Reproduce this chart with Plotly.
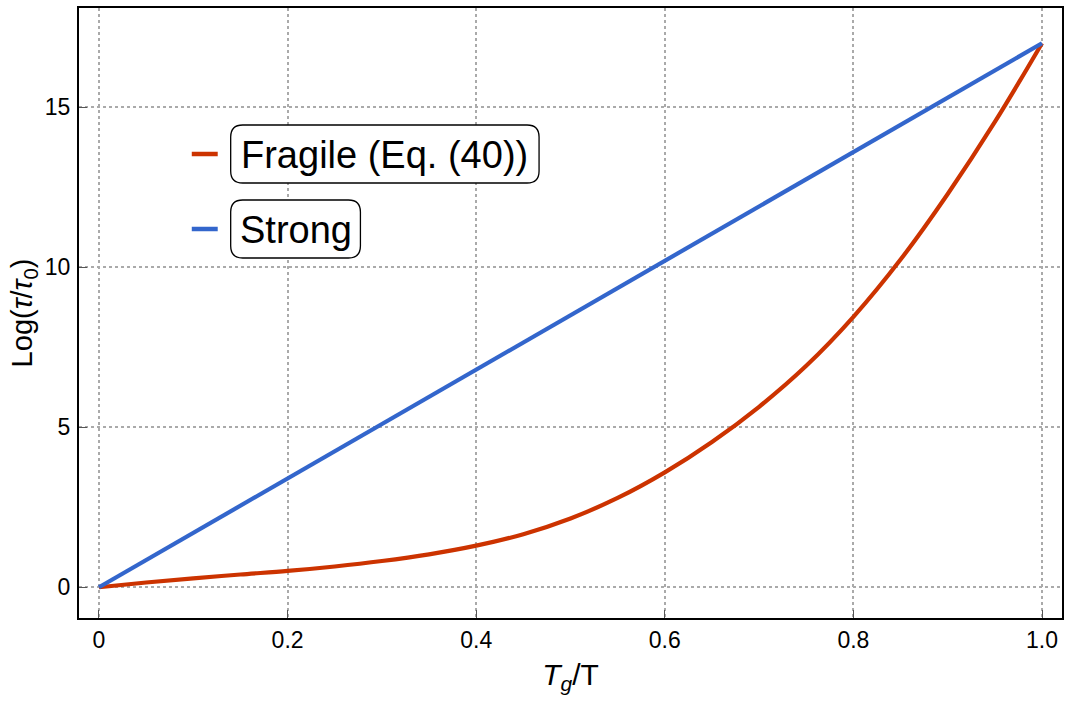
import plotly.graph_objects as go

# ---- data ----
tg_over_t = [0.0, 0.05, 0.10, 0.15, 0.20, 0.25, 0.30, 0.35, 0.40, 0.45, 0.50,
             0.55, 0.60, 0.65, 0.70, 0.75, 0.80, 0.85, 0.90, 0.95, 1.00]
fragile = [0.0, 0.15, 0.28, 0.40, 0.51, 0.65, 0.82, 1.03, 1.30, 1.66, 2.15,
           2.79, 3.59, 4.54, 5.64, 6.92, 8.45, 10.24, 12.29, 14.54, 17.0]
strong_x = [0.0, 1.0]
strong_y = [0.0, 17.0]

x_ticks = [0, 0.2, 0.4, 0.6, 0.8, 1.0]
x_tick_labels = ["0", "0.2", "0.4", "0.6", "0.8", "1.0"]
y_ticks = [0, 5, 10, 15]
y_tick_labels = ["0", "5", "10", "15"]

series_names = ["Fragile (Eq. (40))", "Strong"]
RED = "rgb(204,51,0)"
BLUE = "rgb(51,102,204)"
FONT = "Liberation Sans, Arial, Helvetica, sans-serif"

W, H = 1066, 702
ML, MR, MT, MB = 79, 2, 8, 84
PW, PH = W - ML - MR, H - MT - MB

def px2paper(px, py):
    return (px - ML) / PW, (H - MB - py) / PH

fig = go.Figure()
fig.add_trace(go.Scatter(x=tg_over_t, y=fragile, mode="lines", name=series_names[0],
                         line=dict(color=RED, width=4.2, shape="spline", smoothing=1.0)))
fig.add_trace(go.Scatter(x=strong_x, y=strong_y, mode="lines", name=series_names[1],
                         line=dict(color=BLUE, width=4.2)))

# ---- custom legend: line sample + rounded box around the label ----
def rounded_rect(x0p, y0p, x1p, y1p, r=12):
    def P(px, py):
        x, y = px2paper(px, py)
        return f"{x:.5f},{y:.5f}"
    return (f"M {P(x0p + r, y0p)} L {P(x1p - r, y0p)} Q {P(x1p, y0p)} {P(x1p, y0p + r)} "
            f"L {P(x1p, y1p - r)} Q {P(x1p, y1p)} {P(x1p - r, y1p)} "
            f"L {P(x0p + r, y1p)} Q {P(x0p, y1p)} {P(x0p, y1p - r)} "
            f"L {P(x0p, y0p + r)} Q {P(x0p, y0p)} {P(x0p + r, y0p)} Z")

legend_items = [
    (series_names[0], RED, (231, 125, 540, 183)),
    (series_names[1], BLUE, (231, 200, 361, 258)),
]
shapes = []
annotations = []
for name, col, (bx0, by0, bx1, by1) in legend_items:
    cy = (by0 + by1) / 2
    lx0, ly = px2paper(192, cy)
    lx1, _ = px2paper(218, cy)
    shapes.append(dict(type="line", xref="paper", yref="paper", x0=lx0, x1=lx1, y0=ly, y1=ly,
                       line=dict(color=col, width=4.5)))
    shapes.append(dict(type="path", xref="paper", yref="paper",
                       path=rounded_rect(bx0, by0, bx1, by1),
                       line=dict(color="black", width=1.3), fillcolor="white"))
    cx, cyp = px2paper((bx0 + bx1) / 2, cy + 1)
    annotations.append(dict(text=name, xref="paper", yref="paper", x=cx, y=cyp,
                            xanchor="center", yanchor="middle", showarrow=False,
                            font=dict(family=FONT, size=38, color="black")))

axis_common = dict(showline=True, linecolor="black", linewidth=2, mirror=True,
                   ticks="inside", ticklen=8, tickwidth=1, tickcolor="#555555",
                   showgrid=True, gridcolor="#aaaaaa", griddash="dot", gridwidth=1.5,
                   zeroline=False, tickfont=dict(family=FONT, size=23, color="black"))

fig.update_layout(
    width=W, height=H,
    margin=dict(l=ML, r=MR, t=MT, b=MB),
    paper_bgcolor="white", plot_bgcolor="white",
    showlegend=False,
    shapes=shapes, annotations=annotations,
    xaxis=dict(range=[-0.0212, 1.0212], tickvals=x_ticks, ticktext=x_tick_labels,
               title=dict(text="<i>T<sub>g</sub></i>/T", standoff=12,
                          font=dict(family=FONT, size=30, color="black")),
               ticklabelstandoff=0, **axis_common),
    yaxis=dict(range=[-0.96, 18.1], tickvals=y_ticks, ticktext=y_tick_labels,
               title=dict(text="Log(<i>τ</i>/<i>τ</i><sub>0</sub>)", standoff=4,
                          font=dict(family=FONT, size=29, color="black")),
               ticklabelstandoff=2, **axis_common),
)

fig.write_html("out.html")
